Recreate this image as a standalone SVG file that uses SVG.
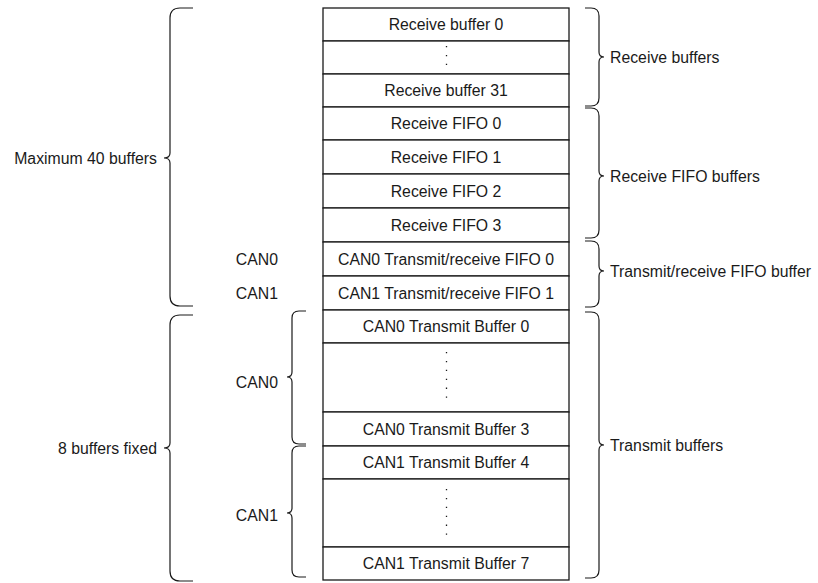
<svg xmlns="http://www.w3.org/2000/svg" width="818" height="583" viewBox="0 0 818 583">
<style>
.bg{fill:#ffffff}
.cell{fill:#ffffff;stroke:#1a1a1a;stroke-width:1.3}
.t{font-family:"Liberation Sans",Arial,sans-serif;font-size:15.8px;fill:#1a1a1a}
.c{text-anchor:middle}
.e{text-anchor:end}
.dots{stroke:#1a1a1a;stroke-width:1.3;stroke-dasharray:1.3 7.6;fill:none}
.brace{fill:none;stroke:#1a1a1a;stroke-width:1.2}
</style>
<rect class="bg" x="0" y="0" width="818" height="583"/>
<g id="memory">
  <g id="rx0"><rect class="cell" x="323" y="8" width="246" height="33"/><text class="t c" x="446" y="30.2">Receive buffer 0</text></g>
  <g id="rx-gap"><rect class="cell" x="323" y="41" width="246" height="33"/><line class="dots" x1="446.5" y1="46" x2="446.5" y2="66"/></g>
  <g id="rx31"><rect class="cell" x="323" y="74" width="246" height="33"/><text class="t c" x="446" y="96.2">Receive buffer 31</text></g>
  <g id="fifo0"><rect class="cell" x="323" y="107" width="246" height="33"/><text class="t c" x="446" y="129.2">Receive FIFO 0</text></g>
  <g id="fifo1"><rect class="cell" x="323" y="140" width="246" height="34"/><text class="t c" x="446" y="162.7">Receive FIFO 1</text></g>
  <g id="fifo2"><rect class="cell" x="323" y="174" width="246" height="34"/><text class="t c" x="446" y="196.7">Receive FIFO 2</text></g>
  <g id="fifo3"><rect class="cell" x="323" y="208" width="246" height="34"/><text class="t c" x="446" y="230.7">Receive FIFO 3</text></g>
  <g id="trfifo0"><rect class="cell" x="323" y="242" width="246" height="34"/><text class="t c" x="446" y="264.7">CAN0 Transmit/receive FIFO 0</text></g>
  <g id="trfifo1"><rect class="cell" x="323" y="276" width="246" height="34"/><text class="t c" x="446" y="298.7">CAN1 Transmit/receive FIFO 1</text></g>
  <g id="tb0"><rect class="cell" x="323" y="310" width="246" height="33"/><text class="t c" x="446" y="332.2">CAN0 Transmit Buffer 0</text></g>
  <g id="tb0-gap"><rect class="cell" x="323" y="343" width="246" height="69"/><line class="dots" x1="446.5" y1="352" x2="446.5" y2="401"/></g>
  <g id="tb3"><rect class="cell" x="323" y="412" width="246" height="34"/><text class="t c" x="446" y="434.7">CAN0 Transmit Buffer 3</text></g>
  <g id="tb4"><rect class="cell" x="323" y="446" width="246" height="33"/><text class="t c" x="446" y="468.2">CAN1 Transmit Buffer 4</text></g>
  <g id="tb4-gap"><rect class="cell" x="323" y="479" width="246" height="68"/><line class="dots" x1="446.5" y1="489" x2="446.5" y2="537"/></g>
  <g id="tb7"><rect class="cell" x="323" y="547" width="246" height="33"/><text class="t c" x="446" y="569.2">CAN1 Transmit Buffer 7</text></g>
</g>
<g id="braces">
  <path class="brace" d="M193,8 L180,8 Q170,8 170,18 L170,153 Q170,158 164,158 Q170,158 170,163 L170,296 Q170,306 180,306 L193,306"/>
  <path class="brace" d="M193,315 L180,315 Q170,315 170,325 L170,443 Q170,448 164,448 Q170,448 170,453 L170,571 Q170,581 180,581 L193,581"/>
  <path class="brace" d="M306,311 L299,311 Q292,311 292,318 L292,372 Q292,377 287,377 Q292,377 292,382 L292,437 Q292,444 299,444 L306,444"/>
  <path class="brace" d="M306,446 L299,446 Q292,446 292,453 L292,508 Q292,513 287,513 Q292,513 292,518 L292,570 Q292,577 299,577 L306,577"/>
  <path class="brace" d="M585,8 L591,8 Q599,8 599,16 L599,52 Q599,57 604,57 Q599,57 599,62 L599,98 Q599,106 591,106 L585,106"/>
  <path class="brace" d="M585,108 L591,108 Q599,108 599,116 L599,171 Q599,176 604,176 Q599,176 599,181 L599,230 Q599,238 591,238 L585,238"/>
  <path class="brace" d="M585,241 L591,241 Q599,241 599,249 L599,266 Q599,271 604,271 Q599,271 599,276 L599,299 Q599,307 591,307 L585,307"/>
  <path class="brace" d="M585,312 L591,312 Q599,312 599,320 L599,440 Q599,445 604,445 Q599,445 599,450 L599,570 Q599,578 591,578 L585,578"/>
</g>
<g id="labels">
  <text class="t e" x="157" y="163.7">Maximum 40 buffers</text>
  <text class="t e" x="157" y="454">8 buffers fixed</text>
  <text class="t e" x="278" y="265">CAN0</text>
  <text class="t e" x="278" y="298.5">CAN1</text>
  <text class="t e" x="278" y="387.5">CAN0</text>
  <text class="t e" x="278" y="521">CAN1</text>
  <text class="t" x="610" y="62.5">Receive buffers</text>
  <text class="t" x="610" y="181.5">Receive FIFO buffers</text>
  <text class="t" x="610" y="276.5">Transmit/receive FIFO buffer</text>
  <text class="t" x="610" y="450.5">Transmit buffers</text>
</g>
</svg>
